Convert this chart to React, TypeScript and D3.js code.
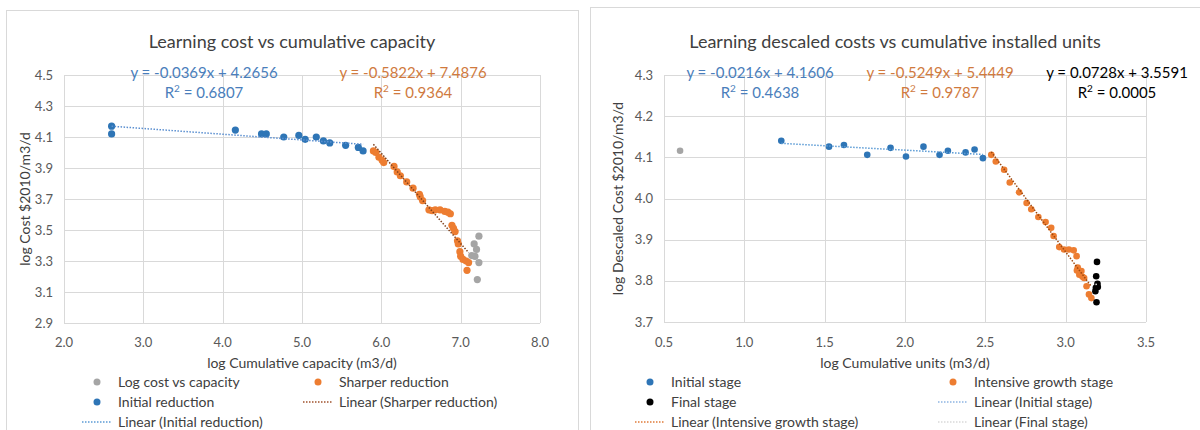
import React from "react";
import * as d3 from "d3";

// ---------- Left chart data ----------
const leftXTicks = [2, 3, 4, 5, 6, 7, 8];
const leftYTicks = [2.9, 3.1, 3.3, 3.5, 3.7, 3.9, 4.1, 4.3, 4.5];
const leftGray: [number, number][] = [
  [7.23, 3.46], [7.17, 3.41], [7.2, 3.375], [7.14, 3.335], [7.23, 3.29], [7.21, 3.18], [7.18, 3.33],
];
const leftBlue: [number, number][] = [
  [2.6, 4.17], [2.6, 4.12], [4.16, 4.145], [4.49, 4.12], [4.55, 4.12], [4.77, 4.1], [4.96, 4.11],
  [5.04, 4.085], [5.18, 4.1], [5.27, 4.075], [5.35, 4.062], [5.55, 4.046], [5.71, 4.033], [5.77, 4.01],
];
const leftOrange: [number, number][] = [
  [5.9, 4.01], [5.93, 4.0], [5.97, 3.97], [6.01, 3.95], [6.03, 3.935], [6.16, 3.91], [6.2, 3.875],
  [6.24, 3.85], [6.32, 3.81], [6.4, 3.77], [6.48, 3.73], [6.49, 3.715], [6.52, 3.69], [6.6, 3.63],
  [6.64, 3.625], [6.68, 3.63], [6.74, 3.63], [6.8, 3.62], [6.84, 3.615], [6.87, 3.605], [6.89, 3.53],
  [6.91, 3.51], [6.93, 3.49], [6.96, 3.43], [6.97, 3.41], [6.99, 3.36], [7.0, 3.33], [7.03, 3.31],
  [7.07, 3.3], [7.1, 3.29], [7.08, 3.24],
];
const leftBlueFit = { slope: -0.0369, intercept: 4.2656, r2: "0.6807" };
const leftOrangeFit = { slope: -0.5822, intercept: 7.4876, r2: "0.9364" };

// ---------- Right chart data ----------
const rightXTicks = [0.5, 1.0, 1.5, 2.0, 2.5, 3.0, 3.5];
const rightYTicks = [3.7, 3.8, 3.9, 4.0, 4.1, 4.2, 4.3];
const rightGray: [number, number][] = [[0.6, 4.116]];
const rightBlue: [number, number][] = [
  [1.23, 4.14], [1.527, 4.126], [1.62, 4.13], [1.765, 4.106], [1.91, 4.123], [2.006, 4.102],
  [2.115, 4.126], [2.215, 4.106], [2.267, 4.116], [2.377, 4.112], [2.433, 4.119], [2.485, 4.098],
];
const rightOrange: [number, number][] = [
  [2.537, 4.106], [2.565, 4.09], [2.617, 4.07], [2.652, 4.039], [2.71, 4.015], [2.757, 3.989],
  [2.786, 3.974], [2.83, 3.955], [2.875, 3.943], [2.91, 3.929], [2.925, 3.909], [2.96, 3.882],
  [2.99, 3.876], [3.02, 3.876], [3.05, 3.874], [3.068, 3.86], [3.075, 3.832], [3.07, 3.825],
  [3.098, 3.824], [3.085, 3.815], [3.105, 3.81], [3.115, 3.807], [3.13, 3.787], [3.145, 3.767],
  [3.16, 3.758],
];
const rightBlack: [number, number][] = [
  [3.195, 3.846], [3.19, 3.811], [3.198, 3.793], [3.188, 3.783], [3.2, 3.785], [3.192, 3.748], [3.185, 3.775],
];
const rightBlueFit = { slope: -0.0216, intercept: 4.1606, r2: "0.4638" };
const rightOrangeFit = { slope: -0.5249, intercept: 5.4449, r2: "0.9787" };
const rightBlackFit = { slope: 0.0728, intercept: 3.5591, r2: "0.0005" };

const FONT = "Lato, 'Open Sans', sans-serif";
const C_BLUE = "#2E75B6";
const C_ORANGE = "#ED7D31";
const C_GRAY = "#A5A5A5";
const GRID = "#D9D9D9";

function eqText(f: { slope: number; intercept: number }) {
  const s = f.slope < 0 ? `-${Math.abs(f.slope).toFixed(4)}` : f.slope.toFixed(4);
  return `y = ${s}x + ${f.intercept.toFixed(4)}`;
}

type Series = { data: [number, number][]; color: string };
type Trend = { fit: { slope: number; intercept: number }; data: [number, number][]; color: string };
type Eq = { fit: { slope: number; intercept: number; r2: string }; cx: number; color: string };
type LegendItem = { kind: "dot" | "line"; color: string; label: string; x: number; row: number };

type ChartProps = {
  frame: { x: number; y: number; w: number; h: number };
  plot: { left: number; right: number; top: number; bottom: number };
  xDomain: [number, number];
  yDomain: [number, number];
  xTicks: number[];
  yTicks: number[];
  title: string;
  titleX: number;
  xTitle: string;
  yTitle: string;
  yTitleX: number;
  series: Series[];
  trends: Trend[];
  eqs: Eq[];
  legend: LegendItem[];
  r: number;
};

function Chart(p: ChartProps) {
  const x = d3.scaleLinear().domain(p.xDomain).range([p.plot.left, p.plot.right]);
  const y = d3.scaleLinear().domain(p.yDomain).range([p.plot.bottom, p.plot.top]);
  const line = d3.line<[number, number]>().x((d) => x(d[0])).y((d) => y(d[1]));
  const legendRows = [382, 402, 422];
  return (
    <g>
      <rect x={p.frame.x + 0.5} y={p.frame.y + 0.5} width={p.frame.w} height={p.frame.h} fill="#fff" stroke={GRID} />
      <text x={p.titleX} y={48} textAnchor="middle" fontSize={18} fill="#404040" fontFamily={FONT}>
        {p.title}
      </text>
      {p.xTicks.map((t) => (
        <line key={"gx" + t} x1={Math.round(x(t)) + 0.5} x2={Math.round(x(t)) + 0.5} y1={p.plot.top} y2={p.plot.bottom} stroke={GRID} />
      ))}
      {p.yTicks.map((t) => (
        <line key={"gy" + t} x1={p.plot.left} x2={p.plot.right} y1={Math.round(y(t)) + 0.5} y2={Math.round(y(t)) + 0.5} stroke={GRID} />
      ))}
      {p.xTicks.map((t) => (
        <text key={"tx" + t} x={x(t)} y={347} textAnchor="middle" fontSize={13} fill="#595959" fontFamily={FONT}>
          {d3.format(".1f")(t)}
        </text>
      ))}
      {p.yTicks.map((t) => (
        <text key={"ty" + t} x={p.plot.left - 11} y={y(t) + 4.5} textAnchor="end" fontSize={13} fill="#595959" fontFamily={FONT}>
          {d3.format(".1f")(t)}
        </text>
      ))}
      <text x={(p.plot.left + p.plot.right) / 2} y={368} textAnchor="middle" fontSize={14} fill="#404040" fontFamily={FONT}>
        {p.xTitle}
      </text>
      <text
        transform={`translate(${p.yTitleX},${(p.plot.top + p.plot.bottom) / 2}) rotate(-90)`}
        textAnchor="middle"
        dy={5}
        fontSize={14}
        fill="#404040"
        fontFamily={FONT}
      >
        {p.yTitle}
      </text>
      {p.series.map((s, i) => (
        <g key={"s" + i}>
          {s.data.map((d, j) => (
            <circle key={j} cx={x(d[0])} cy={y(d[1])} r={p.r} fill={s.color} />
          ))}
        </g>
      ))}
      {p.trends.map((t, i) => {
        const ext = d3.extent(t.data, (d) => d[0]) as [number, number];
        const pts: [number, number][] = ext.map((v) => [v, t.fit.slope * v + t.fit.intercept]) as [number, number][];
        return <path key={"tr" + i} d={line(pts) || ""} fill="none" stroke={t.color} strokeWidth={1.5} strokeDasharray="1.5,1.5" />;
      })}
      {p.eqs.map((e, i) => (
        <g key={"eq" + i} fontFamily={FONT} fontSize={15} fill={e.color} textAnchor="middle">
          <text x={e.cx} y={78}>{eqText(e.fit)}</text>
          <text x={e.cx} y={98}>
            R<tspan fontSize={10} dy={-6}>2</tspan>
            <tspan dy={6}>{` = ${e.fit.r2}`}</tspan>
          </text>
        </g>
      ))}
      {p.legend.map((l, i) => {
        const cy = legendRows[l.row];
        return (
          <g key={"lg" + i}>
            {l.kind === "dot" ? (
              <circle cx={l.x} cy={cy} r={3.5} fill={l.color} />
            ) : (
              <line x1={l.x - 15} x2={l.x + 15} y1={cy} y2={cy} stroke={l.color} strokeWidth={1.5} strokeDasharray="1.5,1.5" />
            )}
            <text x={l.x + 21} y={cy + 5} fontSize={14} fill="#404040" fontFamily={FONT}>
              {l.label}
            </text>
          </g>
        );
      })}
    </g>
  );
}

export default function App() {
  return (
    <svg
      width={1200}
      height={430}
      style={{ position: "fixed", left: 0, top: 0, background: "#fff" }}
      viewBox="0 0 1200 430"
    >
      <rect x={0} y={0} width={1200} height={430} fill="#fff" />
      <Chart
        frame={{ x: 6, y: 10, w: 572, h: 430 }}
        plot={{ left: 64, right: 540, top: 75, bottom: 323 }}
        xDomain={[2, 8]}
        yDomain={[2.9, 4.5]}
        xTicks={leftXTicks}
        yTicks={leftYTicks}
        title="Learning cost vs cumulative capacity"
        titleX={292}
        xTitle="log Cumulative capacity (m3/d)"
        yTitle="log Cost $2010/m3/d"
        yTitleX={25}
        series={[
          { data: leftGray, color: C_GRAY },
          { data: leftBlue, color: C_BLUE },
          { data: leftOrange, color: C_ORANGE },
        ]}
        trends={[
          { fit: leftBlueFit, data: leftBlue, color: "#5B8FD0" },
          { fit: leftOrangeFit, data: leftOrange, color: "#7F3F1A" },
        ]}
        eqs={[
          { fit: leftBlueFit, cx: 204, color: "#4A7EBB" },
          { fit: leftOrangeFit, cx: 413, color: "#D07A3E" },
        ]}
        legend={[
          { kind: "dot", color: C_GRAY, label: "Log cost vs capacity", x: 97, row: 0 },
          { kind: "dot", color: C_ORANGE, label: "Sharper reduction", x: 318, row: 0 },
          { kind: "dot", color: C_BLUE, label: "Initial reduction", x: 97, row: 1 },
          { kind: "line", color: "#A0522D", label: "Linear (Sharper reduction)", x: 318, row: 1 },
          { kind: "line", color: "#5B9BD5", label: "Linear (Initial reduction)", x: 97, row: 2 },
        ]}
        r={3.6}
      />
      <Chart
        frame={{ x: 590, y: 7, w: 615, h: 430 }}
        plot={{ left: 664, right: 1146, top: 75, bottom: 322 }}
        xDomain={[0.5, 3.5]}
        yDomain={[3.7, 4.3]}
        xTicks={rightXTicks}
        yTicks={rightYTicks}
        title="Learning descaled costs vs cumulative installed units"
        titleX={895}
        xTitle="log Cumulative units (m3/d)"
        yTitle="log Descaled Cost $2010/m3/d"
        yTitleX={618}
        series={[
          { data: rightGray, color: C_GRAY },
          { data: rightBlue, color: C_BLUE },
          { data: rightOrange, color: C_ORANGE },
          { data: rightBlack, color: "#000" },
        ]}
        trends={[
          { fit: rightBlueFit, data: rightBlue, color: "#5B9BD5" },
          { fit: rightOrangeFit, data: rightOrange, color: "#9E480E" },
          { fit: rightBlackFit, data: rightBlack, color: "#E0E0E0" },
        ]}
        eqs={[
          { fit: rightBlueFit, cx: 760, color: "#4A7EBB" },
          { fit: rightOrangeFit, cx: 940, color: "#D07A3E" },
          { fit: rightBlackFit, cx: 1117, color: "#000" },
        ]}
        legend={[
          { kind: "dot", color: C_BLUE, label: "Initial stage", x: 650, row: 0 },
          { kind: "dot", color: C_ORANGE, label: "Intensive growth stage", x: 953, row: 0 },
          { kind: "dot", color: "#000", label: "Final stage", x: 650, row: 1 },
          { kind: "line", color: "#8DB4E2", label: "Linear (Initial stage)", x: 953, row: 1 },
          { kind: "line", color: "#E07B39", label: "Linear (Intensive growth stage)", x: 650, row: 2 },
          { kind: "line", color: "#D9D9D9", label: "Linear (Final stage)", x: 953, row: 2 },
        ]}
        r={3.3}
      />
    </svg>
  );
}
